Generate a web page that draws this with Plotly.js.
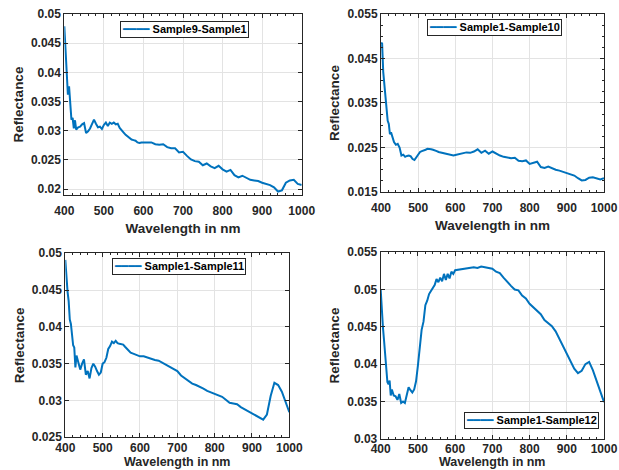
<!DOCTYPE html>
<html>
<head>
<meta charset="utf-8">
<script src="https://cdn.plot.ly/plotly-3.0.1.min.js"></script>
<style>html,body{margin:0;padding:0;background:#fff;}#chart{width:619px;height:470px;}</style>
</head>
<body>
<div id="chart"></div>
<script>
// Wavelength samples (nm)
const wavelength = [400,403,406,409,412,415,418,421,424,427,430,
  435,440,445,450,455,460,465,470,475,480,485,490,495,500,505,510,515,520,525,530,535,540,
  545,550,555,560,565,570,575,580,585,590,595,600,
  610,620,630,640,650,660,670,680,690,700,710,720,730,740,750,760,770,780,790,800,
  810,820,830,840,850,860,870,880,890,900,910,920,930,940,950,960,970,980,990,1000];

const sample9_sample1 = [.0479,.0438,.0404,.0362,.0376,.0336,.0319,.0322,.0304,.0318,.0302,
  .0306,.0307,.0311,.0313,.0296,.0299,.0304,.0313,.0319,.0312,.0306,.0307,.0303,.0310,.0314,.0308,.0314,.0312,.0314,.0311,.0312,.0305,
  .0300,.0297,.0293,.0290,.0288,.0285,.0284,.0283,.0280,.0279,.0280,.0280,
  .0279,.0280,.0277,.0276,.0277,.0272,.0270,.0270,.0263,.0264,.0257,.0251,.0248,.0247,.0241,.0244,.0239,.0236,.0240,.0234,
  .0230,.0233,.0224,.0220,.0223,.0220,.0216,.0215,.0214,.0211,.0209,.0207,.0203,.0196,.0198,.0211,.0215,.0216,.0209,.0207];

const sample1_sample10 = [.0485,.0484,.0420,.0390,.0363,.0340,.0310,.0303,.0280,.0284,.0275,
  .0262,.0256,.0258,.0250,.0232,.0234,.0229,.0231,.0232,.0230,.0224,.0222,.0228,.0235,.0240,.0242,.0243,.0245,.0247,.0247,.0246,.0245,
  .0244,.0242,.0240,.0239,.0237,.0236,.0235,.0234,.0233,.0232,.0232,.0233,
  .0235,.0237,.0239,.0238,.0241,.0246,.0238,.0243,.0236,.0241,.0236,.0232,.0229,.0227,.0226,.0227,.0220,.0219,.0221,.0213,
  .0215,.0218,.0206,.0204,.0207,.0203,.0200,.0198,.0195,.0193,.0190,.0187,.0181,.0176,.0177,.0182,.0183,.0180,.0178,.0181];

const sample1_sample11 = [.0491,.0465,.0448,.0435,.0410,.0404,.0385,.0375,.0372,.0345,.0361,
  .0352,.0342,.0350,.0356,.0335,.0340,.0330,.0344,.0350,.0346,.0340,.0335,.0338,.0350,.0352,.0358,.0370,.0374,.0380,.0378,.0381,.0378,
  .0377,.0377,.0376,.0373,.0370,.0367,.0365,.0364,.0363,.0362,.0361,.0360,
  .0360,.0358,.0356,.0355,.0354,.0351,.0349,.0345,.0342,.0340,.0334,.0330,.0326,.0323,.0321,.0319,.0316,.0313,.0311,.0309,
  .0307,.0305,.0301,.0297,.0296,.0295,.0291,.0288,.0285,.0283,.0279,.0276,.0274,.0281,.0306,.0324,.0321,.0312,.0297,.0284];

const sample1_sample12 = [.0500,.0470,.0450,.0432,.0415,.0395,.0376,.0373,.0378,.0358,.0366,
  .0358,.0357,.0352,.0360,.0348,.0350,.0348,.0361,.0369,.0365,.0362,.0366,.0377,.0398,.0422,.0446,.0457,.0479,.0485,.0494,.0498,.0503,
  .0506,.0514,.0510,.0516,.0511,.0521,.0513,.0521,.0515,.0524,.0521,.0526,
  .0527,.0528,.0529,.0529,.0530,.0529,.0531,.0530,.0529,.0528,.0524,.0522,.0516,.0510,.0505,.0500,.0499,.0492,.0488,.0481,
  .0476,.0472,.0467,.0459,.0455,.0451,.0444,.0434,.0424,.0414,.0404,.0394,.0388,.0391,.0400,.0403,.0392,.0378,.0362,.0349];

const seriesNames = ['Sample9-Sample1','Sample1-Sample10','Sample1-Sample11','Sample1-Sample12'];
const xTitle = 'Wavelength in nm';
const yTitle = 'Reflectance';
const xTicks = [400,500,600,700,800,900,1000];
const yTicks1 = [0.02,0.025,0.03,0.035,0.04,0.045,0.05];
const yTickText1 = ['0.02','0.025','0.03','0.035','0.04','0.045','0.05'];
const yTicks2 = [0.015,0.025,0.035,0.045,0.055];
const yTickText2 = ['0.015','0.025','0.035','0.045','0.055'];
const yTicks3 = [0.025,0.03,0.035,0.04,0.045,0.05];
const yTickText3 = ['0.025','0.03','0.035','0.04','0.045','0.05'];
const yTicks4 = [0.03,0.035,0.04,0.045,0.05,0.055];
const yTickText4 = ['0.03','0.035','0.04','0.045','0.05','0.055'];

const lineColor = '#0072BD';
const dark = '#262626';
const FONT = 'Liberation Sans, Arial, sans-serif';
const allY = [sample9_sample1, sample1_sample10, sample1_sample11, sample1_sample12];

const traces = allY.map((y,i) => ({
  type:'scatter', mode:'lines', x: wavelength, y: y,
  name: seriesNames[i], showlegend:false,
  xaxis: i===0 ? 'x' : 'x'+(i+1),
  yaxis: i===0 ? 'y' : 'y'+(i+1),
  line:{color:lineColor, width:2}
}));

const titleFont = {family:FONT, size:13.5, color:dark, weight:'bold'};

function xax(domain, anchor, labelGap, withTitle){
  const a = {
    domain: domain, anchor: anchor, range:[400,1000],
    tickmode:'array', tickvals: xTicks, ticktext: xTicks.map(String),
    showline:true, mirror:'ticks', linecolor:dark, linewidth:1,
    ticks:'inside', ticklen:4, tickcolor:dark,
    showgrid:true, gridcolor:'#e3e3e3', gridwidth:1, zeroline:false,
    minor:{dtick:20, tick0:400, ticks:'inside', ticklen:2, tickcolor:dark, showgrid:false},
    tickfont:{family:FONT, size:12, color:dark, weight:'bold'},
    ticklabelstandoff: labelGap,
    automargin:false
  };
  if(withTitle) a.title = {text:xTitle, font:titleFont, standoff:6};
  return a;
}
function yax(domain, anchor, range, vals, texts, minor){
  const a = {
    domain: domain, anchor: anchor, range: range,
    tickmode:'array', tickvals: vals, ticktext: texts,
    showline:true, mirror:'ticks', linecolor:dark, linewidth:1,
    ticks:'inside', ticklen:4, tickcolor:dark,
    showgrid:true, gridcolor:'#e3e3e3', gridwidth:1, zeroline:false,
    tickfont:{family:FONT, size:12, color:dark, weight:'bold'},
    title:{text:yTitle, font:titleFont, standoff:4},
    automargin:false
  };
  if(minor) a.minor = {dtick:minor, tick0:range[0], ticks:'inside', ticklen:2, tickcolor:dark, showgrid:false};
  return a;
}
// Legend boxes (MATLAB style, compact)
function legendBox(name, x, y){
  return {
    xref:'paper', yref:'paper', x:x, y:y, xanchor:'left', yanchor:'top',
    showarrow:false, align:'left',
    text:'<span style="color:'+lineColor+';font-family:DejaVu Sans">━━━━</span> '+name,
    font:{family:FONT, size:11, color:'#000', weight:'bold'},
    bgcolor:'#ffffff', bordercolor:dark, borderwidth:1, borderpad:1
  };
}
// Bottom-row x-axis titles sit right at the bottom edge, as in the reference
function bottomTitle(x){
  return {xref:'paper', yref:'paper', x:x, y:0, xanchor:'center', yanchor:'bottom',
    showarrow:false, text:xTitle, font:{family:FONT, size:12.5, color:dark, weight:'bold'}, borderpad:0};
}

const layout = {
  width:619, height:470,
  margin:{l:0,r:0,t:0,b:0},
  paper_bgcolor:'#fff', plot_bgcolor:'#fff',
  showlegend:false,
  xaxis: xax([0.1039,0.4874],'y',5,true),
  yaxis: yax([0.5851,0.9702],'x',[0.019,0.05],yTicks1,yTickText1),
  xaxis2: xax([0.6155,0.9758],'y2',5,true),
  yaxis2: yax([0.5915,0.9702],'x2',[0.015,0.055],yTicks2,yTickText2,0.0025),
  xaxis3: xax([0.1055,0.4674],'y3',-1,false),
  yaxis3: yax([0.0696,0.4611],'x3',[0.025,0.05],yTicks3,yTickText3),
  xaxis4: xax([0.6150,0.9758],'y4',-1,false),
  yaxis4: yax([0.0666,0.4632],'x4',[0.03,0.055],yTicks4,yTickText4),
  annotations: [
    legendBox(seriesNames[0], 0.1939, 0.956),
    legendBox(seriesNames[1], 0.6898, 0.9596),
    legendBox(seriesNames[2], 0.1809, 0.451),
    legendBox(seriesNames[3], 0.7496, 0.1234),
    bottomTitle(0.2865),
    bottomTitle(0.7954)
  ]
};

Plotly.newPlot('chart', traces, layout, {displayModeBar:false, staticPlot:true});
</script>
</body>
</html>
